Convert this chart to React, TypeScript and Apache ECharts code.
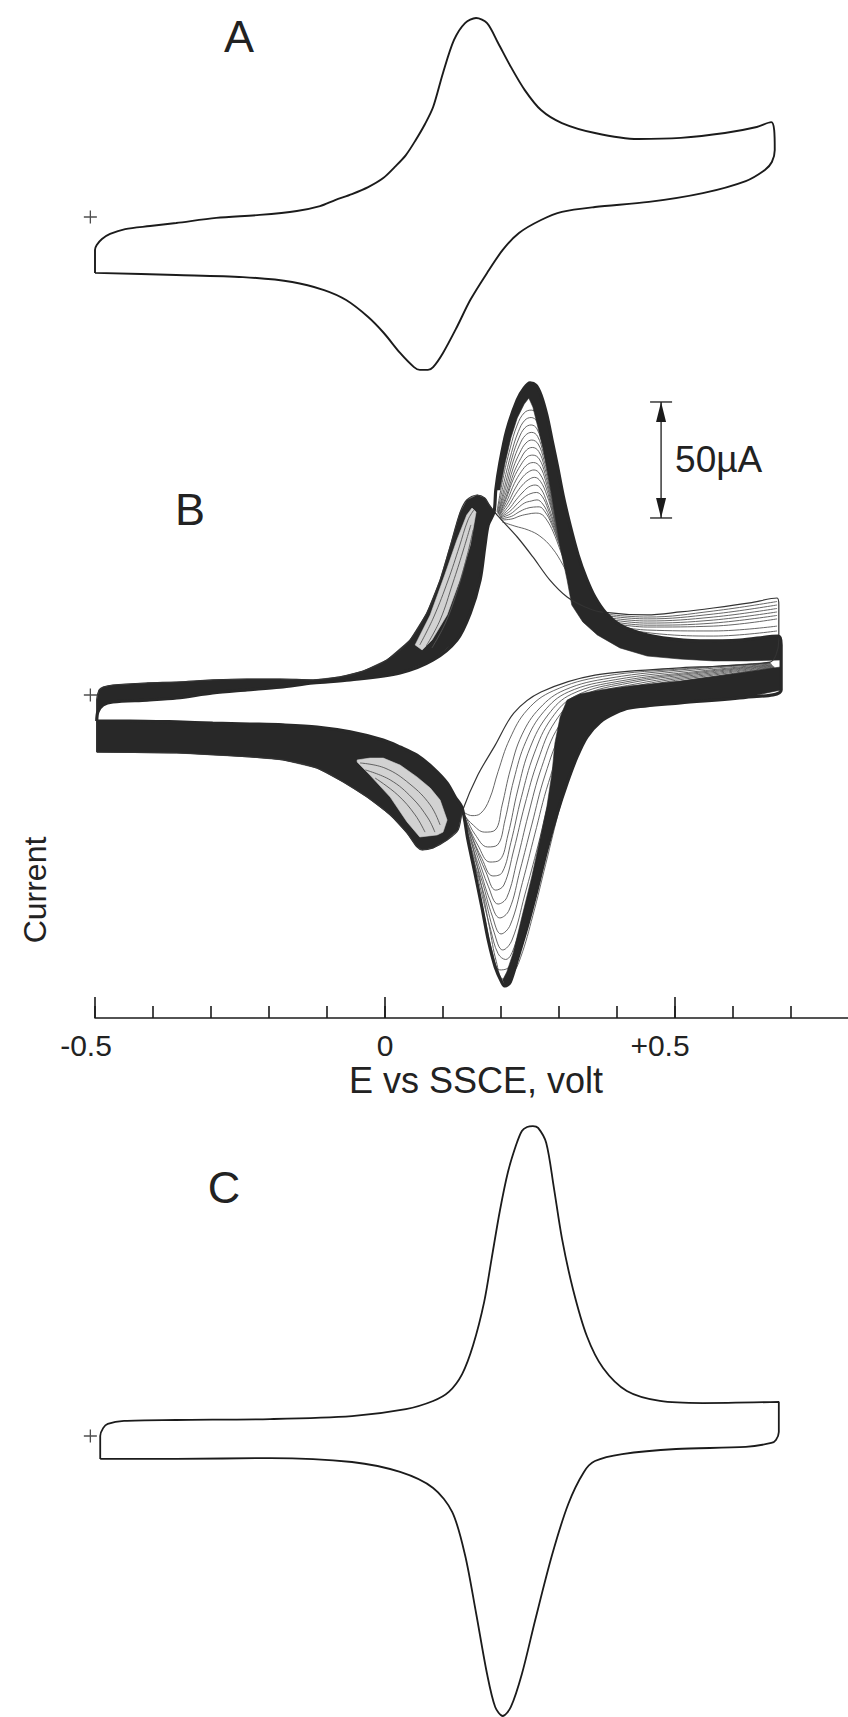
import React, { useEffect, useRef } from "react";
import * as echarts from "echarts";

type P = [number, number];

// ---------- text ----------
const FONT = "'Liberation Sans', 'Helvetica', 'DejaVu Sans', sans-serif";
const panelLabels = ["A", "B", "C"];
const xTitle = "E vs SSCE, volt";
const yTitle = "Current";
const scaleBarText = "50µA";

// ---------- axis ----------
const E_MIN = -0.5;
const E_MAX = 0.8;
const majorTickValues = [-0.5, 0, 0.5];
const majorTickLabels = ["-0.5", "0", "+0.5"];

// scale bar in panel B: [E (V), lower I (µA), upper I (µA)]  -> 50 µA
const scaleBarB: number[] = [0.476, 76.3, 126.3];

// start markers (+) : [E, I]
const startMarker: P = [-0.508, 0];

// ---------- Panel A : single cycle (E / V, I / µA) ----------
const cycleA: P[] = [
  [-0.5, -24.1], [-0.5, -14.2], [-0.497, -12.1], [-0.488, -9.5], [-0.474, -7.3], [-0.448, -5.2],
  [-0.405, -3.9], [-0.36, -2.6], [-0.291, -0.4], [-0.216, 0.9], [-0.152, 2.6], [-0.112, 4.7],
  [-0.086, 7.3], [-0.057, 9.9], [-0.029, 12.9], [-0.003, 16.8], [0.017, 21.6], [0.036, 26.7],
  [0.053, 33.2], [0.069, 40.1], [0.083, 47.4], [0.1, 62.1], [0.119, 76.3], [0.138, 83.6],
  [0.157, 85.8], [0.176, 83.6], [0.195, 75.0], [0.217, 64.7], [0.241, 54.7], [0.269, 46.1],
  [0.305, 40.5], [0.362, 36.2], [0.436, 33.6], [0.51, 34.1], [0.586, 36.2], [0.641, 38.8],
  [0.666, 40.9], [0.671, 37.5], [0.672, 28.9], [0.667, 23.7], [0.655, 20.3], [0.622, 15.5],
  [0.548, 10.3], [0.455, 6.5], [0.362, 4.3], [0.305, 2.2], [0.269, -1.3], [0.231, -6.9],
  [0.203, -14.2], [0.176, -24.1], [0.147, -35.8], [0.124, -47.4], [0.1, -58.6], [0.083, -64.7],
  [0.074, -65.9], [0.06, -65.9], [0.05, -64.7], [0.026, -58.6], [-0.002, -50.0], [-0.029, -43.1],
  [-0.067, -35.8], [-0.105, -31.5], [-0.16, -28.0], [-0.245, -25.9], [-0.36, -25.0], [-0.5, -24.1],
];

// ---------- Panel C : single cycle ----------
const cycleC: P[] = [
  [-0.491, -9.9], [-0.491, 0], [-0.486, 3.4], [-0.478, 5.2], [-0.45, 6.5], [-0.36, 6.9],
  [-0.198, 7.3], [-0.057, 8.6], [0.036, 11.6], [0.083, 15.1], [0.11, 19.0], [0.133, 26.7],
  [0.152, 39.2], [0.171, 57.8], [0.184, 76.7], [0.198, 97.0], [0.212, 113.8], [0.226, 125.4],
  [0.236, 131.5], [0.245, 133.2], [0.255, 133.6], [0.264, 132.8], [0.278, 126.3], [0.291, 107.3],
  [0.305, 85.3], [0.324, 63.4], [0.348, 43.1], [0.376, 29.3], [0.417, 19.4], [0.474, 15.1],
  [0.548, 14.2], [0.679, 14.7], [0.679, 1.7], [0.674, -1.7], [0.666, -3.0], [0.622, -4.7],
  [0.502, -5.6], [0.409, -7.8], [0.362, -10.8], [0.343, -15.5], [0.316, -29.3], [0.288, -51.3],
  [0.259, -79.3], [0.236, -102.6], [0.217, -116.8], [0.203, -120.7], [0.19, -116.8], [0.176, -102.6],
  [0.157, -76.3], [0.138, -51.3], [0.116, -32.8], [0.083, -22.4], [0.026, -15.5], [-0.057, -11.2],
  [-0.198, -9.5], [-0.36, -9.9], [-0.491, -9.9],
];

// ---------- Panel B : repeated cycling ----------
// first cycle
const bFirstFwdL: P[] = [
  [-0.497, -24.6], [-0.497, -2.2], [-0.493, 2.2], [-0.486, 3.4], [-0.469, 4.3], [-0.41, 5.2],
  [-0.359, 5.6], [-0.297, 6.5], [-0.238, 6.9], [-0.181, 6.9], [-0.124, 6.5], [-0.078, 7.8],
  [-0.038, 10.3], [0.003, 15.1], [0.043, 23.7], [0.072, 35.3], [0.095, 49.6], [0.112, 63.8],
  [0.129, 78.4], [0.141, 84.1], [0.159, 86.2], [0.172, 84.9], [0.181, 81.5], [0.193, 77.6],
];
const bFirstFwdR: P[] = [
  [0.228, 68.1], [0.255, 59.5], [0.284, 49.6], [0.314, 42.2], [0.345, 37.9], [0.371, 35.8],
  [0.452, 34.5], [0.509, 35.8], [0.566, 37.5], [0.629, 39.7], [0.676, 41.8], [0.679, 38.8],
  [0.679, 23.7], [0.674, 17.2], [0.664, 14.2],
];
const bFirstRevR: P[] = [
  [0.578, 12.5], [0.502, 11.6], [0.362, 8.6], [0.269, 1.3], [0.222, -7.8], [0.19, -21.6],
  [0.16, -34.5], [0.134, -49.6],
];
const bFirstRevL: P[] = [
  [0.126, -58.2], [0.107, -62.5], [0.083, -65.9], [0.064, -66.8], [0.055, -65.5], [0.038, -59.5],
  [0.009, -51.7], [-0.031, -44.0], [-0.072, -37.5], [-0.117, -31.5], [-0.176, -28.0], [-0.233, -26.7],
  [-0.359, -25.0], [-0.497, -24.6],
];
// final cycle
const bFinalFwdL: P[] = [
  [-0.497, -11.2], [-0.495, -7.3], [-0.486, -4.3], [-0.469, -3.0], [-0.41, -2.2], [-0.359, -1.3],
  [-0.297, 0.9], [-0.238, 2.2], [-0.181, 3.4], [-0.124, 5.2], [-0.06, 6.5], [0.026, 9.5],
  [0.083, 15.1], [0.124, 23.7], [0.147, 35.3], [0.164, 49.6], [0.172, 63.8], [0.178, 73.3],
  [0.188, 78.9],
];
const bFinalFwdR: P[] = [
  [0.191, 88.4], [0.198, 100.0], [0.21, 114.2], [0.228, 127.2], [0.24, 132.3], [0.25, 134.5],
  [0.26, 133.6], [0.269, 129.3], [0.279, 120.7], [0.288, 109.9], [0.297, 99.1], [0.307, 86.2],
  [0.319, 73.3], [0.333, 60.3], [0.347, 50.4], [0.362, 42.2], [0.381, 35.3], [0.405, 30.2],
  [0.44, 26.7], [0.479, 24.6], [0.543, 23.3], [0.612, 23.7], [0.678, 25.4], [0.683, 21.6],
  [0.683, 2.2],
];
const bFinalRevR: P[] = [
  [0.624, -0.9], [0.509, -3.4], [0.422, -5.6], [0.397, -7.8], [0.371, -11.6], [0.348, -18.1],
  [0.331, -26.7], [0.314, -37.9], [0.297, -50.9], [0.279, -66.8], [0.262, -84.1], [0.245, -100.0],
  [0.228, -114.2], [0.216, -123.7], [0.207, -125.4],
];
const bFinalRevM: P[] = [
  [0.202, -124.1], [0.19, -117.2], [0.178, -105.6], [0.167, -91.4], [0.155, -76.7], [0.143, -62.5],
  [0.133, -48.7],
];
const bFinalRevL: P[] = [
  [0.121, -44.0], [0.107, -37.9], [0.083, -31.5], [0.055, -25.9], [0.026, -22.4], [-0.003, -19.4],
  [-0.06, -15.9], [-0.117, -13.8], [-0.176, -12.9], [-0.233, -12.5], [-0.297, -12.1], [-0.359, -11.6],
  [-0.44, -11.2], [-0.497, -11.2],
];
// edges of the dense (dark) bundles
const bandURLower: P[] = [
  [0.683, 15.1], [0.624, 14.7], [0.566, 14.7], [0.509, 15.5], [0.452, 16.8], [0.405, 20.3],
  [0.366, 25.9], [0.341, 31.5], [0.322, 38.8],
];
const bandURInner: P[] = [
  [0.314, 49.6], [0.302, 63.8], [0.288, 85.3], [0.272, 106.9], [0.255, 124.1], [0.248, 128.0],
  [0.24, 125.4], [0.228, 119.4], [0.217, 110.8], [0.207, 100.0], [0.198, 88.4],
];
const bandLRInner: P[] = [
  [0.203, -122.8], [0.21, -119.4], [0.221, -111.2], [0.236, -95.7], [0.253, -78.4], [0.267, -62.5],
  [0.279, -48.3], [0.288, -33.6], [0.293, -20.7], [0.302, -9.5], [0.314, -2.2], [0.336, 0.4],
  [0.371, 2.2], [0.422, 3.9], [0.509, 6.0], [0.612, 9.5], [0.669, 11.6], [0.683, 12.1],
];
const lightUpperStrip: P[] = [
  [0.052, 21.6], [0.078, 34.5], [0.103, 51.7], [0.124, 66.8], [0.141, 77.6], [0.15, 80.6],
  [0.157, 78.9], [0.147, 64.7], [0.129, 49.6], [0.107, 34.5], [0.081, 23.7], [0.064, 19.4],
];
const lightLowerPatch: P[] = [
  [-0.048, -28.0], [-0.026, -27.2], [-0.003, -27.2], [0.026, -30.2], [0.055, -35.3], [0.078, -40.1],
  [0.095, -45.3], [0.107, -53.9], [0.1, -59.1], [0.09, -60.3], [0.06, -61.2], [0.038, -54.7],
  [0.009, -44.0], [-0.026, -34.5], [-0.048, -28.9],
];
// fine lines seen inside the light patches
const bStripLines: P[][] = [
  [[0.06, 21.6], [0.084, 33.6], [0.109, 49.6], [0.128, 63.8], [0.143, 75.4], [0.153, 79.7]],
  [[0.071, 21.1], [0.095, 32.3], [0.117, 48.3], [0.134, 61.6], [0.148, 73.3]],
  [[0.081, 20.3], [0.105, 31.5], [0.126, 46.1], [0.141, 59.5], [0.152, 71.1]],
  [[-0.043, -29.3], [0.0, -31.5], [0.043, -38.4], [0.078, -47.4], [0.095, -56.0]],
  [[-0.034, -32.3], [0.009, -36.6], [0.047, -44.4], [0.074, -53.0], [0.086, -59.1]],
  [[-0.017, -35.8], [0.022, -43.1], [0.052, -51.7], [0.069, -59.1]],
];
// intermediate cycles visible as fine lines: anodic peak near +0.25 V
const bPeakLines: P[][] = [
  [[0.193, 78.9], [0.203, 92.7], [0.216, 106.5], [0.228, 116.4], [0.24, 121.6], [0.252, 122.8], [0.262, 121.1], [0.271, 114.2], [0.281, 103.4], [0.29, 88.4], [0.298, 75.4], [0.305, 64.7]],
  [[0.194, 78.6], [0.205, 91.6], [0.218, 104.4], [0.23, 113.6], [0.241, 118.4], [0.252, 119.6], [0.262, 117.9], [0.272, 110.8], [0.282, 99.8], [0.291, 85.6], [0.299, 72.2], [0.306, 62.5]],
  [[0.195, 78.4], [0.207, 90.5], [0.219, 102.2], [0.231, 110.8], [0.241, 115.1], [0.252, 116.4], [0.262, 114.7], [0.272, 107.3], [0.283, 96.1], [0.291, 82.8], [0.3, 69.0], [0.307, 60.3]],
  [[0.195, 78.2], [0.208, 89.0], [0.22, 100.0], [0.232, 107.8], [0.242, 111.9], [0.253, 113.2], [0.263, 111.5], [0.273, 104.3], [0.284, 93.3], [0.292, 80.2], [0.301, 67.3], [0.309, 58.2]],
  [[0.195, 78.0], [0.209, 87.5], [0.221, 97.8], [0.233, 104.7], [0.243, 108.6], [0.253, 109.9], [0.264, 108.2], [0.274, 101.3], [0.284, 90.5], [0.293, 77.6], [0.302, 65.5], [0.31, 56.0]],
  [[0.196, 77.8], [0.21, 86.4], [0.222, 95.7], [0.234, 101.9], [0.244, 105.6], [0.254, 106.7], [0.265, 105.0], [0.275, 98.3], [0.285, 87.7], [0.294, 75.5], [0.304, 63.6], [0.312, 54.3]],
  [[0.197, 77.6], [0.21, 85.3], [0.222, 93.5], [0.234, 99.1], [0.245, 102.6], [0.255, 103.4], [0.266, 101.7], [0.276, 95.3], [0.286, 84.9], [0.295, 73.3], [0.305, 61.6], [0.314, 52.6]],
  [[0.197, 77.4], [0.211, 84.1], [0.223, 91.2], [0.235, 96.3], [0.246, 99.4], [0.256, 100.2], [0.267, 98.5], [0.277, 92.3], [0.287, 82.3], [0.297, 71.2], [0.307, 59.9], [0.317, 50.7]],
  [[0.197, 77.2], [0.212, 82.8], [0.224, 88.8], [0.236, 93.5], [0.247, 96.1], [0.257, 97.0], [0.267, 95.3], [0.278, 89.2], [0.288, 79.7], [0.298, 69.0], [0.309, 58.2], [0.319, 48.7]],
  [[0.198, 77.0], [0.213, 81.5], [0.225, 86.5], [0.237, 90.5], [0.248, 92.9], [0.258, 93.8], [0.268, 92.1], [0.279, 86.2], [0.29, 77.2], [0.3, 66.9], [0.312, 56.1], [0.324, 45.9]],
  [[0.198, 76.7], [0.214, 80.2], [0.226, 84.1], [0.238, 87.5], [0.248, 89.7], [0.259, 90.5], [0.269, 88.8], [0.279, 83.2], [0.291, 74.6], [0.302, 64.7], [0.314, 53.9], [0.328, 43.1]],
  [[0.198, 76.5], [0.215, 79.1], [0.228, 82.4], [0.24, 85.2], [0.25, 86.7], [0.261, 87.3], [0.271, 85.6], [0.281, 80.2], [0.293, 72.0], [0.305, 62.3], [0.317, 51.8], [0.332, 41.0]],
  [[0.198, 76.3], [0.216, 78.0], [0.229, 80.6], [0.241, 82.8], [0.252, 83.6], [0.262, 84.1], [0.272, 82.3], [0.283, 77.2], [0.295, 69.4], [0.307, 59.9], [0.319, 49.6], [0.336, 38.8]],
  [[0.199, 75.9], [0.218, 77.0], [0.231, 78.9], [0.244, 80.4], [0.256, 81.0], [0.266, 81.1], [0.276, 78.9], [0.287, 73.8], [0.299, 66.0], [0.312, 56.5], [0.325, 46.2], [0.343, 36.7]],
  [[0.2, 75.4], [0.219, 75.9], [0.233, 77.2], [0.247, 78.0], [0.259, 78.4], [0.269, 78.0], [0.279, 75.4], [0.29, 70.3], [0.302, 62.5], [0.316, 53.0], [0.331, 42.7], [0.35, 34.5]],
  [[0.202, 74.6], [0.224, 72.8], [0.247, 71.1], [0.267, 68.5], [0.288, 63.4], [0.307, 56.0], [0.328, 46.1], [0.353, 37.9]],
];
// fine lines: upper-right fan near the switching potential
const bUpperFan: P[][] = [
  [[0.371, 35.1], [0.452, 33.6], [0.566, 36.2], [0.676, 40.3]],
  [[0.371, 34.5], [0.452, 32.8], [0.566, 34.9], [0.676, 38.8]],
  [[0.371, 33.8], [0.452, 31.9], [0.566, 33.6], [0.676, 37.3]],
  [[0.371, 33.2], [0.452, 31.0], [0.566, 32.3], [0.676, 35.8]],
  [[0.371, 32.5], [0.452, 30.1], [0.566, 31.0], [0.676, 34.3]],
  [[0.371, 31.9], [0.452, 29.3], [0.566, 29.7], [0.676, 32.8]],
  [[0.379, 30.6], [0.452, 28.0], [0.566, 27.6], [0.676, 29.7]],
  [[0.388, 29.3], [0.474, 26.3], [0.566, 25.4], [0.676, 27.6]],
];
// fine lines: cathodic peak near +0.21 V and its return fan
const bLowerFan: P[][] = [
  [[0.664, 14.0], [0.52, 11.4], [0.375, 8.0], [0.29, 1.8], [0.245, -6.5], [0.215, -19.0], [0.195, -33.0], [0.18, -45.0], [0.165, -51.0], [0.15, -52.0], [0.134, -50.2]],
  [[0.664, 13.8], [0.526, 11.2], [0.388, 7.3], [0.31, 2.2], [0.267, -5.6], [0.236, -17.2], [0.216, -32.3], [0.202, -47.4], [0.19, -58.2], [0.172, -59.1], [0.15, -55.6], [0.134, -50.9]],
  [[0.665, 13.6], [0.535, 10.8], [0.397, 6.6], [0.316, 1.3], [0.274, -7.1], [0.243, -20.0], [0.222, -36.6], [0.207, -53.8], [0.194, -64.6], [0.177, -65.5], [0.155, -60.0], [0.14, -53.0], [0.134, -50.6]],
  [[0.666, 13.4], [0.543, 10.3], [0.405, 6.0], [0.322, 0.4], [0.281, -8.6], [0.25, -22.8], [0.229, -40.9], [0.212, -60.3], [0.198, -71.1], [0.181, -72.0], [0.16, -64.7], [0.143, -56.0], [0.134, -50.4]],
  [[0.667, 13.1], [0.552, 10.1], [0.414, 5.6], [0.329, -0.3], [0.287, -10.1], [0.257, -25.4], [0.235, -44.2], [0.217, -63.6], [0.202, -76.5], [0.186, -78.0], [0.167, -70.5], [0.149, -60.4], [0.136, -51.7]],
  [[0.667, 12.9], [0.56, 9.9], [0.422, 5.2], [0.336, -0.9], [0.293, -11.6], [0.264, -28.0], [0.241, -47.4], [0.222, -66.8], [0.205, -81.9], [0.191, -84.1], [0.174, -76.3], [0.155, -64.7], [0.138, -53.0]],
  [[0.668, 12.7], [0.569, 9.7], [0.431, 4.7], [0.343, -1.5], [0.3, -13.3], [0.27, -31.2], [0.247, -51.7], [0.228, -71.1], [0.21, -87.3], [0.195, -90.1], [0.178, -82.4], [0.16, -70.0], [0.143, -58.0], [0.136, -52.0]],
  [[0.669, 12.5], [0.578, 9.5], [0.44, 4.3], [0.35, -2.2], [0.307, -15.1], [0.276, -34.5], [0.253, -56.0], [0.233, -75.4], [0.214, -92.7], [0.198, -96.1], [0.181, -88.4], [0.164, -75.4], [0.147, -62.5], [0.136, -53.9]],
  [[0.67, 12.3], [0.586, 9.3], [0.448, 3.9], [0.356, -2.8], [0.313, -16.8], [0.282, -37.7], [0.258, -60.3], [0.237, -80.8], [0.216, -99.1], [0.2, -103.0], [0.185, -95.3], [0.168, -80.8], [0.15, -66.8], [0.138, -56.0]],
  [[0.671, 12.1], [0.595, 9.1], [0.457, 3.4], [0.362, -3.4], [0.319, -18.5], [0.288, -40.9], [0.264, -64.7], [0.241, -86.2], [0.219, -105.6], [0.203, -109.9], [0.188, -102.2], [0.171, -86.2], [0.153, -71.1], [0.14, -58.2]],
  [[0.671, 11.9], [0.599, 8.9], [0.465, 3.0], [0.366, -3.9], [0.323, -20.0], [0.292, -43.1], [0.268, -66.9], [0.245, -88.4], [0.224, -107.8], [0.208, -114.0], [0.195, -111.5], [0.182, -101.0], [0.168, -87.0], [0.154, -72.0], [0.142, -59.0]],
  [[0.672, 11.6], [0.603, 8.6], [0.474, 2.6], [0.371, -4.3], [0.328, -21.6], [0.297, -45.3], [0.272, -69.0], [0.25, -90.5], [0.229, -109.9], [0.212, -117.7], [0.198, -118.5], [0.184, -109.9], [0.171, -94.8], [0.157, -79.7], [0.145, -62.5]],
  [[0.673, 11.4], [0.61, 8.4], [0.48, 2.4], [0.375, -4.8], [0.332, -23.0], [0.302, -48.0], [0.277, -73.0], [0.255, -95.0], [0.234, -113.0], [0.218, -121.0], [0.204, -122.5], [0.192, -115.0], [0.18, -100.0], [0.166, -82.0], [0.152, -66.0], [0.14, -54.0]],
];

// ---------- layout ----------
const PX_PER_UA = 2.32;
const GRID_LEFT = 95;
const GRID_WIDTH = 754;
const panels = [
  { top: 0, height: 400, zeroPx: 217 },
  { top: 360, height: 658, zeroPx: 695 },
  { top: 1090, height: 627, zeroPx: 1436 },
];
const INK = "#1b1b1b";
const BAND = "#282828";
const FINE = "#555555";

function buildOption() {
  const grid = panels.map((p) => ({
    left: GRID_LEFT,
    top: p.top,
    width: GRID_WIDTH,
    height: p.height,
    containLabel: false,
    outerBoundsMode: "none",
  }));
  const yAxis = panels.map((p, i) => ({
    type: "value",
    gridIndex: i,
    min: -(p.top + p.height - p.zeroPx) / PX_PER_UA,
    max: (p.zeroPx - p.top) / PX_PER_UA,
    show: false,
  }));
  const hidden = (gi: number) => ({
    type: "value", gridIndex: gi, min: E_MIN, max: E_MAX, show: false,
  });
  const labelStyle = { fontSize: 30, fontFamily: FONT, color: "#222" };
  const xAxis: any[] = [
    hidden(0),
    {
      type: "value", gridIndex: 1, min: E_MIN, max: E_MAX, interval: 0.1, position: "bottom",
      axisLine: { show: true, onZero: false, lineStyle: { color: INK, width: 1.6 } },
      axisTick: { show: true, inside: true, length: 12, lineStyle: { color: INK, width: 1.6 } },
      axisLabel: { show: false }, splitLine: { show: false },
    },
    {
      type: "value", gridIndex: 1, min: E_MIN, max: E_MAX, interval: 0.5, position: "bottom",
      axisLine: { show: false, onZero: false },
      axisTick: { show: true, inside: true, length: 21, lineStyle: { color: INK, width: 1.6 } },
      axisLabel: {
        show: true, margin: 12, ...labelStyle,
        formatter: (v: number) => {
          const i = majorTickValues.findIndex((t) => Math.abs(t - v) < 1e-6);
          if (i < 0) return "";
          const key = ["n", "z", "p"][i];
          return `{${key}|${majorTickLabels[i]}}`;
        },
        rich: {
          n: { ...labelStyle, padding: [0, 18, 0, 0] },
          z: { ...labelStyle },
          p: { ...labelStyle, padding: [0, 30, 0, 0] },
        },
      },
      splitLine: { show: false },
    },
    hidden(2),
  ];

  const line = (data: P[], xi: number, yi: number, width: number, z: number, color = INK, smooth = 0.3) => ({
    type: "line", xAxisIndex: xi, yAxisIndex: yi, data, symbol: "none", showSymbol: false,
    smooth, clip: false, silent: true, z, lineStyle: { color, width },
  });

  const polys = [
    { pts: [...bFirstFwdL, ...[...bFinalFwdL].reverse()], fill: BAND },
    { pts: [...bFinalRevL, ...[...bFirstRevL].reverse(), [0.134, -49.6] as P], fill: BAND },
    { pts: [...bFinalFwdR.slice(0, -1), ...bandURLower, ...bandURInner], fill: BAND },
    { pts: [[0.683, 2.2] as P, ...bFinalRevR, ...bandLRInner], fill: BAND },
    { pts: lightUpperStrip, fill: "#d2d2d2" },
    { pts: lightLowerPatch, fill: "#d2d2d2" },
  ];

  const plusPath = "path://M5.4,0h1.2v5.4h5.4v1.2h-5.4v5.4h-1.2v-5.4h-5.4v-1.2h5.4z";
  const marker = (xi: number, yi: number) => ({
    type: "scatter", xAxisIndex: xi, yAxisIndex: yi, data: [startMarker], symbol: plusPath,
    symbolSize: 13, clip: false, silent: true, z: 8, itemStyle: { color: "#222" },
  });

  const series: any[] = [
    line(cycleA, 0, 0, 1.9, 5),
    line(cycleC, 3, 2, 1.8, 5),
    ...bPeakLines.map((d) => line(d, 1, 1, 0.9, 2, FINE, 0.4)),
    ...bUpperFan.map((d) => line(d, 1, 1, 0.9, 2, FINE, 0.4)),
    ...bLowerFan.map((d) => line(d, 1, 1, 0.9, 2, FINE, 0.4)),
    {
      type: "custom", xAxisIndex: 1, yAxisIndex: 1, silent: true, z: 3, clip: false,
      data: polys.map((_, i) => [0, 0, i]), encode: { x: 0, y: 1 },
      renderItem: (_p: any, api: any) => {
        const poly = polys[api.value(2)];
        return {
          type: "polygon",
          shape: { points: poly.pts.map((pt) => api.coord(pt)) },
          style: { fill: poly.fill, stroke: poly.fill, lineWidth: 0.6 },
        };
      },
    },
    ...bStripLines.map((d) => line(d, 1, 1, 0.9, 4, FINE, 0.4)),
    line([...bFirstFwdL, ...bFirstFwdR, ...bFirstRevR, ...bFirstRevL], 1, 1, 1.2, 6, "#333"),
    line([...bFinalFwdL, ...bFinalFwdR, ...bFinalRevR, ...bFinalRevM, ...bFinalRevL], 1, 1, 3.2, 6, BAND),
    {
      type: "custom", xAxisIndex: 1, yAxisIndex: 1, silent: true, z: 7, clip: false,
      data: [scaleBarB], encode: { x: 0, y: [1, 2] },
      renderItem: (_p: any, api: any) => {
        const lo = api.coord([api.value(0), api.value(1)]);
        const hi = api.coord([api.value(0), api.value(2)]);
        const x = lo[0];
        const st = { stroke: INK, lineWidth: 1.3 };
        return {
          type: "group",
          children: [
            { type: "line", shape: { x1: x, y1: lo[1], x2: x, y2: hi[1] }, style: st },
            { type: "line", shape: { x1: x - 11, y1: lo[1], x2: x + 11, y2: lo[1] }, style: st },
            { type: "line", shape: { x1: x - 11, y1: hi[1], x2: x + 11, y2: hi[1] }, style: st },
            { type: "polygon", shape: { points: [[x, hi[1]], [x - 5, hi[1] + 20], [x + 5, hi[1] + 20]] }, style: { fill: INK } },
            { type: "polygon", shape: { points: [[x, lo[1]], [x - 5, lo[1] - 20], [x + 5, lo[1] - 20]] }, style: { fill: INK } },
            {
              type: "text", x: x + 14, y: (lo[1] + hi[1]) / 2,
              style: { text: scaleBarText, fontSize: 37, fontFamily: FONT, fill: "#222", align: "left", verticalAlign: "middle" },
            },
          ],
        };
      },
    },
    marker(0, 0),
    marker(1, 1),
    marker(3, 2),
  ];

  const txt = (text: string, x: number, y: number, size: number, rotation = 0) => ({
    type: "text", x, y, rotation, silent: true,
    style: { text, fontSize: size, fontFamily: FONT, fill: "#222", align: "center", verticalAlign: "middle" },
  });

  return {
    animation: false,
    backgroundColor: "#ffffff",
    grid, xAxis, yAxis, series,
    graphic: [
      txt(panelLabels[0], 239, 36, 45),
      txt(panelLabels[1], 190, 509, 45),
      txt(panelLabels[2], 224, 1187, 45),
      txt(yTitle, 35, 890, 32, Math.PI / 2),
      txt(xTitle, 476, 1080, 36),
    ],
  };
}

export default function App() {
  const ref = useRef<HTMLDivElement>(null);
  useEffect(() => {
    if (!ref.current) return;
    const chart = echarts.init(ref.current, null, { renderer: "svg" });
    chart.setOption(buildOption() as any);
    return () => chart.dispose();
  }, []);
  return (
    <div
      ref={ref}
      style={{ position: "absolute", left: 0, top: 0, width: 848, height: 1717, background: "#fff" }}
    />
  );
}
